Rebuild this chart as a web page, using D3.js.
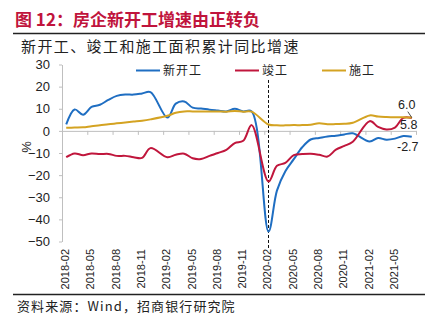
<!DOCTYPE html>
<html>
<head>
<meta charset="utf-8">
<script src="https://cdn.jsdelivr.net/npm/d3@7"></script>
<style>
  html, body { margin: 0; padding: 0; background: #fff; }
  svg { display: block; }
</style>
</head>
<body>
<svg id="chart" width="439" height="324"></svg>
<script>
// categories, one slot per month (January slots have no data)
var months = [
  '2018-02','2018-03','2018-04','2018-05','2018-06','2018-07','2018-08','2018-09','2018-10','2018-11','2018-12',
  '2019-01','2019-02','2019-03','2019-04','2019-05','2019-06','2019-07','2019-08','2019-09','2019-10','2019-11','2019-12',
  '2020-01','2020-02','2020-03','2020-04','2020-05','2020-06','2020-07','2020-08','2020-09','2020-10','2020-11','2020-12',
  '2021-01','2021-02','2021-03','2021-04','2021-05','2021-06','2021-07'
];
var tickMonths = ['2018-02','2018-05','2018-08','2018-11','2019-02','2019-05','2019-08','2019-11',
                  '2020-02','2020-05','2020-08','2020-11','2021-02','2021-05'];
var yTicks = [30, 20, 10, 0, -10, -20, -30, -40, -50];

var newStart = [
  2.9, 9.7, 7.3, 10.8, 11.8, 14.0, 15.8, 16.4, 16.4, 16.9, 17.5,
  null, 6.0, 12.3, 13.3, 10.5, 10.1, 9.6, 9.2, 8.8, 10.0, 8.8, 8.8,
  null, -45.5, -27.0, -18.2, -12.8, -7.4, -3.9, -3.2, -2.5, -2.2, -1.6, -1.1,
  null, -4.8, -3.2, -4.0, -3.5, -2.3, -2.7
];
var completed = [
  -11.9, -10.2, -11.0, -10.2, -10.5, -10.4, -11.3, -11.3, -11.9, -12.2, -7.8,
  null, -11.9, -10.8, -10.3, -12.4, -12.7, -11.3, -10.0, -8.6, -5.5, -4.5, 2.6,
  null, -22.9, -15.8, -14.5, -11.0, -10.5, -10.3, -10.8, -11.6, -8.5, -6.8, -4.9,
  null, 4.4, 1.8, 0.6, 1.5, 5.9, 5.8
];
var underway = [
  1.4, 1.5, 1.6, 2.1, 2.5, 3.0, 3.4, 3.8, 4.2, 4.6, 5.2,
  null, 6.8, 8.2, 8.8, 8.8, 8.8, 8.8, 8.8, 8.7, 9.0, 8.7, 8.7,
  null, 2.9, 2.5, 2.5, 2.6, 2.6, 2.8, 3.4, 3.0, 3.1, 3.2, 3.7,
  null, 7.0, 6.5, 6.3, 6.2, 6.2, 6.0
];

var seriesNames = ['新开工', '竣工', '施工'];
var seriesColors = ['#1f6ec2', '#c0163c', '#d4a322'];
var seriesValues = [newStart, completed, underway];

var svg = d3.select('#chart');
var cjk = '"Noto Sans CJK SC", "Noto Sans", sans-serif';
var latin = '"Liberation Sans", Arial, sans-serif';

svg.append('rect').attr('width', 439).attr('height', 324).attr('fill', '#fff');

// title block
svg.append('text').attr('x', 15).attr('y', 26)
   .attr('font-family', cjk).attr('font-size', 17).attr('font-weight', 'bold')
   .attr('fill', '#c0143c').text('图 12：房企新开工增速由正转负');
svg.append('line').attr('x1', 13).attr('x2', 425).attr('y1', 33.5).attr('y2', 33.5)
   .attr('stroke', '#222').attr('stroke-width', 1.5);
svg.append('text').attr('x', 21).attr('y', 52)
   .attr('font-family', cjk).attr('font-size', 15).attr('letter-spacing', 1.4)
   .attr('fill', '#222').text('新开工、竣工和施工面积累计同比增速');

// bottom rule + source
svg.append('line').attr('x1', 13).attr('x2', 425).attr('y1', 294.5).attr('y2', 294.5)
   .attr('stroke', '#222').attr('stroke-width', 1.5);
svg.append('text').attr('x', 17).attr('y', 311)
   .attr('font-family', cjk).attr('font-size', 13).attr('letter-spacing', 1.1)
   .attr('fill', '#222').text('资料来源：Wind，招商银行研究院');

// scales
var x = d3.scaleBand().domain(months).range([62, 416]);
var xi = d3.scaleLinear().domain([0, months.length]).range([62, 416]);
var y = d3.scaleLinear().domain([-50, 30]).range([241.5, 64.5]);
var cx = m => x(m) + x.bandwidth() / 2;

// y axis
var yAxis = svg.append('g').attr('transform', 'translate(62,0)')
   .call(d3.axisLeft(y).tickValues(yTicks).tickSize(3).tickSizeOuter(0).tickPadding(9));
yAxis.select('.domain').attr('stroke', '#bfbfbf');
yAxis.selectAll('.tick line').attr('stroke', '#bfbfbf');
yAxis.selectAll('.tick text').attr('font-family', latin).attr('font-size', 13).attr('fill', '#222');

svg.append('text').attr('transform', 'translate(31,147) rotate(-90)')
   .attr('text-anchor', 'middle').attr('font-family', latin).attr('font-size', 13)
   .attr('fill', '#222').text('%');

// x axis along zero, ticks every 3 months at category boundaries
var xAxis = svg.append('g').attr('transform', 'translate(0,' + y(0) + ')')
   .call(d3.axisBottom(xi).tickValues(d3.range(0, months.length + 1, 3)).tickFormat('').tickSize(4).tickSizeOuter(0));
xAxis.select('.domain').attr('stroke', '#bfbfbf');
xAxis.selectAll('.tick line').attr('stroke', '#bfbfbf');

svg.append('g').selectAll('text').data(tickMonths).enter().append('text')
   .attr('transform', d => 'translate(' + (cx(d) - 1) + ',249) rotate(-90)')
   .attr('text-anchor', 'end').attr('dy', '0.35em')
   .attr('font-family', latin).attr('font-size', 11).attr('fill', '#222')
   .text(d => d);

// dashed marker at 2020-02
svg.append('line').attr('x1', cx('2020-02')).attr('x2', cx('2020-02'))
   .attr('y1', y(23)).attr('y2', 250)
   .attr('stroke', '#111').attr('stroke-width', 1).attr('stroke-dasharray', '3,2');

// series lines (gaps bridged, like the source chart)
var line = d3.line().x(d => cx(d.m)).y(d => y(d.v)).curve(d3.curveCatmullRom.alpha(0.5));
seriesValues.forEach(function(vals, i) {
  var pts = months.map((m, j) => ({ m: m, v: vals[j] })).filter(d => d.v != null);
  svg.append('path').datum(pts).attr('d', line)
     .attr('fill', 'none').attr('stroke', seriesColors[i]).attr('stroke-width', 2)
     .attr('stroke-linejoin', 'round');
});

// legend
var legendX = [136, 235, 322];
seriesNames.forEach(function(name, i) {
  svg.append('line').attr('x1', legendX[i]).attr('x2', legendX[i] + 24)
     .attr('y1', 70.5).attr('y2', 70.5).attr('stroke', seriesColors[i]).attr('stroke-width', 2);
  svg.append('text').attr('x', legendX[i] + 27).attr('y', 75)
     .attr('font-family', cjk).attr('font-size', 12).attr('letter-spacing', 1)
     .attr('fill', '#222').text(name);
});

// end labels
var last = months[months.length - 1];
var lx = cx(last);
svg.append('line').attr('x1', lx - 4).attr('y1', y(underway[41]) - 6)
   .attr('x2', lx).attr('y2', y(underway[41])).attr('stroke', '#222').attr('stroke-width', 0.8);
svg.append('text').attr('x', lx - 5).attr('y', y(underway[41]) - 9)
   .attr('text-anchor', 'middle').attr('font-family', latin).attr('font-size', 12.5)
   .attr('fill', '#222').text(underway[41].toFixed(1));
svg.append('text').attr('x', lx - 3).attr('y', y(completed[41]) + 11)
   .attr('text-anchor', 'middle').attr('font-family', latin).attr('font-size', 12.5)
   .attr('fill', '#222').text(completed[41].toFixed(1));
svg.append('text').attr('x', lx - 4).attr('y', y(newStart[41]) + 14)
   .attr('text-anchor', 'middle').attr('font-family', latin).attr('font-size', 12.5)
   .attr('fill', '#222').text(newStart[41].toFixed(1));
</script>
</body>
</html>
